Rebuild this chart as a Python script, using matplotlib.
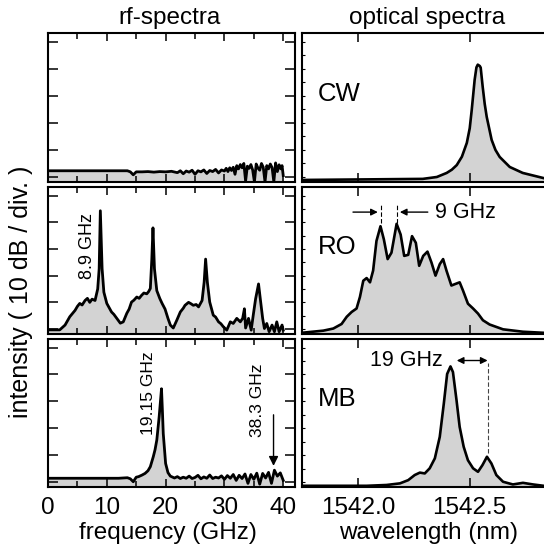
import numpy as np
import matplotlib
matplotlib.use("Agg")
import matplotlib.pyplot as plt
from matplotlib.ticker import MultipleLocator

plt.rcParams['font.family'] = ['Liberation Sans', 'DejaVu Sans']

# --- rf-spectra (frequency in GHz, level in dB) ---
cw_f = [0, 2, 4, 6, 8, 10, 12, 13.5, 14.0, 14.5, 15, 16, 17, 18, 19, 20, 21, 22, 22.5,
        23, 23.5, 24, 24.5, 25, 25.5, 26, 26.5, 27, 27.5, 28, 28.5, 29, 29.5, 30, 30.3,
        30.6, 30.9, 31.2, 31.5, 31.8, 32.1, 32.4, 32.7, 33.0, 33.3, 33.6, 33.9, 34.2,
        34.5, 34.8, 35.1, 35.4, 35.7, 36.0, 36.3, 36.6, 36.9, 37.2, 37.5, 37.8, 38.1,
        38.4, 38.7, 39.0, 39.3, 39.6, 39.8, 40]
cw_db = [2.3, 2.3, 2.3, 2.3, 2.3, 2.3, 2.3, 2.3, 1.9, 0.8, 1.9, 1.9, 2.0, 1.8, 2.0, 1.9,
         2.1, 1.6, 2.3, 1.2, 2.2, 1.8, 2.5, 1.0, 2.3, 1.9, 2.6, 1.3, 2.4, 2.0, 2.8, 1.5,
         2.6, 2.2, 3.2, 2.0, 3.4, 2.4, 3.6, 1.0, 4.2, 3.0, 4.6, 3.4, 5.0, -1.5, 4.0, 3.2,
         4.6, 2.6, -1.8, 4.8, 3.3, 2.5, 5.0, 3.6, -1.8, 4.2, 3.0, 4.8, 3.5, -1.8, 5.2,
         2.0, 4.5, 3.0, 4.2, 0.5]

ro_f = [0, 2.0, 2.9, 3.7, 4.6, 5.0, 5.4, 5.8, 6.3, 6.7, 7.1, 7.5, 8.0, 8.45, 8.7, 8.9,
        9.2, 9.5, 10.0, 10.4, 10.8, 11.2, 11.7, 12.3, 12.8, 13.4, 13.8, 14.2, 14.6, 15.1,
        15.5, 15.9, 16.3, 16.8, 17.1, 17.4, 17.65, 17.85, 18.1, 18.5, 19.0, 19.4, 19.9,
        20.4, 20.8, 21.3, 21.9, 22.5, 23.0, 23.3, 23.9, 24.3, 24.7, 25.2, 25.6, 26.2,
        26.55, 26.8, 27.1, 27.5, 28.1, 28.5, 29.0, 29.4, 29.8, 30.4, 31.0, 31.5, 32.1,
        32.7, 33.1, 33.4, 33.6, 34.1, 34.55, 34.9, 35.3, 35.8, 36.1, 36.5, 36.8, 37.2,
        37.6, 38.1, 38.5, 38.9, 39.3, 39.8, 40.0]
ro_db = [-0.3, -0.3, 1.5, 4.6, 7.0, 8.5, 9.6, 9.0, 10.7, 11.5, 10.0, 11.2, 10.7, 15.0,
         22.6, 44.3, 22.6, 13.8, 9.6, 8.0, 6.4, 5.5, 4.0, 2.2, 2.7, 5.9, 7.5, 10.1, 10.8,
         12.0, 11.5, 12.6, 13.5, 13.2, 14.0, 15.2, 26.0, 37.9, 22.6, 14.4, 11.5, 9.6,
         7.5, 4.0, 1.5, 0.4, 3.3, 6.4, 7.8, 8.9, 10.0, 9.5, 8.9, 9.2, 8.3, 10.7, 17.5,
         26.2, 17.5, 10.1, 5.2, 4.5, 2.7, 2.0, 0.9, -0.4, 2.7, 2.1, 4.0, 2.7, 4.0, 7.6,
         0.4, 4.0, -0.4, 5.2, 11.3, 16.9, 11.3, 4.0, 0.2, 2.1, -1.0, 1.5, -1.0, 2.7,
         -1.0, 1.5, -0.4]

mb_f = [0, 3, 6, 9, 12, 13.5, 14.0, 14.5, 15.0, 15.4, 16.0, 16.5, 17.0, 17.4, 17.9,
        18.2, 18.5, 18.9, 19.3, 19.45, 19.6, 20.0, 20.4, 20.8, 21.5, 22, 22.5, 23, 23.5,
        24, 24.5, 25, 25.5, 26, 26.5, 27, 27.5, 28, 28.5, 29, 29.5, 30, 30.5, 31, 31.5,
        32, 32.5, 33, 33.5, 34, 34.5, 35, 35.5, 36, 36.5, 37, 37.5, 38, 38.5, 39, 39.5, 40]
mb_db = [1.4, 1.4, 1.4, 1.4, 1.4, 1.6, 1.2, 0.1, 1.8, 2.0, 2.6, 3.2, 4.2, 5.7, 9.4,
         12.0, 15.6, 24.2, 34.7, 26.7, 18.0, 6.9, 3.5, 2.2, 1.5, 2.0, 1.3, 1.8, 1.4,
         2.2, 1.3, 1.7, 2.5, 1.2, 1.9, 1.4, 2.6, 1.3, 1.8, 1.5, 2.3, 1.0, 2.4, 1.4,
         2.8, 0.6, 2.5, 1.3, 3.0, -0.5, 2.8, 1.0, 3.3, -0.8, 3.2, 1.5, 3.6, -0.5, 4.4,
         2.2, 3.4, 0.6]

# --- optical spectra (wavelength in nm, intensity in a.u.) ---
cw_wl = [1541.749, 1542.290, 1542.353, 1542.397, 1542.420, 1542.442, 1542.465,
         1542.487, 1542.500, 1542.509, 1542.522, 1542.530, 1542.536, 1542.545,
         1542.549, 1542.558, 1542.567, 1542.576, 1542.598, 1542.615, 1542.634,
         1542.679, 1542.737, 1542.830]
cw_int = [-1.1, -0.7, 0.0, 1.5, 2.7, 4.4, 7.5, 12.6, 18.0, 24.8, 35.9, 40.5, 41.5, 41.0,
          40.4, 33.3, 27.0, 22.2, 13.7, 10.0, 7.4, 3.7, 1.5, -0.4]

ro_wl = [1541.749, 1541.845, 1541.890, 1541.927, 1541.950, 1541.972, 1541.994,
         1542.009, 1542.024, 1542.039, 1542.054, 1542.068, 1542.083, 1542.101,
         1542.116, 1542.133, 1542.150, 1542.173, 1542.191, 1542.207, 1542.225,
         1542.242, 1542.259, 1542.274, 1542.292, 1542.311, 1542.329, 1542.347,
         1542.366, 1542.381, 1542.396, 1542.418, 1542.436, 1542.455, 1542.470,
         1542.492, 1542.515, 1542.537, 1542.559, 1542.589, 1542.649, 1542.738, 1542.830]
ro_int = [-1.4, -0.6, 0.2, 1.9, 4.6, 6.4, 7.7, 12.0, 18.1, 19.1, 17.5, 21.9, 33.0,
          38.5, 33.6, 26.2, 28.6, 39.4, 35.4, 27.4, 27.8, 34.8, 32.3, 23.7, 27.4, 29.0,
          24.9, 20.0, 24.3, 26.2, 21.9, 16.3, 16.9, 17.5, 14.4, 9.5, 7.7, 5.8, 3.3, 1.7,
          -0.1, -1.0, -1.4]

mb_wl = [1541.741, 1542.039, 1542.128, 1542.188, 1542.225, 1542.254, 1542.277,
         1542.299, 1542.321, 1542.344, 1542.366, 1542.384, 1542.399, 1542.414,
         1542.425, 1542.441, 1542.455, 1542.473, 1542.492, 1542.515, 1542.537,
         1542.557, 1542.577, 1542.597, 1542.619, 1542.649, 1542.693, 1542.738,
         1542.783, 1542.830]
mb_int = [-1.4, -1.4, -1.1, -0.5, 0.7, 2.6, 3.5, 3.2, 5.1, 8.8, 16.8, 29.1, 40.2, 43.0,
          40.9, 30.4, 20.5, 13.1, 8.1, 5.1, 3.8, 6.3, 9.4, 6.9, 2.6, 0.1, -0.9, -0.3,
          -0.9, -1.4]

rf_ticks = [0, 10, 20, 30, 40]
wl_ticks = [1542.0, 1542.5]
wl_ticklabels = ["1542.0", "1542.5"]
mode_names = ["CW", "RO", "MB"]

W, H = 544, 546
fig = plt.figure(figsize=(W / 100, H / 100), dpi=100)

rows = [(33, 182), (187, 334), (339, 487)]
fill_c = '#d3d3d3'
YLIM = (-1.85, 53.2)


def box(x0, x1, y0, y1):
    return fig.add_axes([x0 / W, 1 - y1 / H, (x1 - x0) / W, (y1 - y0) / H])


rf_data = [(cw_f, cw_db), (ro_f, ro_db), (mb_f, mb_db)]
opt_data = [(cw_wl, cw_int), (ro_wl, ro_int), (mb_wl, mb_int)]

left_axes = []
right_axes = []
for i, (y0, y1) in enumerate(rows):
    axl = box(48, 295, y0, y1)
    f, d = rf_data[i]
    axl.fill_between(f, d, YLIM[0] - 1, color=fill_c, lw=0)
    axl.plot(f, d, color='k', lw=2.0)
    axl.set_xlim(0, 42)
    axl.set_ylim(*YLIM)
    axl.set_xticks(rf_ticks)
    axl.xaxis.set_minor_locator(MultipleLocator(5))
    axl.yaxis.set_major_locator(MultipleLocator(10))
    axl.tick_params(which='both', direction='in', top=True, right=True, width=1.1,
                    labelsize=17.5, pad=7)
    axl.tick_params(axis='x', which='major', length=6)
    axl.tick_params(axis='x', which='minor', length=4)
    axl.tick_params(axis='y', which='major', length=7.5)
    axl.set_yticklabels([])
    for s in axl.spines.values():
        s.set_linewidth(1.5)
    if i < 2:
        axl.set_xticklabels([])
    left_axes.append(axl)

    axr = box(302, 548, y0, y1)
    w, v = opt_data[i]
    axr.fill_between(w, v, YLIM[0] - 1, color=fill_c, lw=0)
    axr.plot(w, v, color='k', lw=1.9)
    axr.set_xlim(1541.75, 1542.85)
    axr.set_ylim(*YLIM)
    axr.set_xticks(wl_ticks)
    axr.yaxis.set_major_locator(MultipleLocator(5))
    axr.tick_params(axis='x', direction='in', top=True, length=6.5, width=1.1,
                    labelsize=17.5, pad=7)
    axr.tick_params(axis='y', direction='in', length=2, width=0.8)
    axr.set_yticklabels([])
    for s in axr.spines.values():
        s.set_linewidth(1.5)
    if i < 2:
        axr.set_xticklabels([])
    else:
        axr.set_xticklabels(wl_ticklabels)
    axr.text(1541.82, 30.7, mode_names[i], fontsize=18.5, va='center', ha='left')
    right_axes.append(axr)

# rf annotations
left_axes[1].text(6.7, 18.8, "8.9 GHz", rotation=90, fontsize=13, ha='center', va='bottom')
left_axes[2].text(17.1, 17.4, "19.15 GHz", rotation=90, fontsize=12.6, ha='center', va='bottom')
left_axes[2].text(35.6, 16.7, "38.3 GHz", rotation=90, fontsize=12.6, ha='center', va='bottom')
left_axes[2].annotate('', xy=(38.35, 6.0), xytext=(38.35, 25.0),
                      arrowprops=dict(arrowstyle='-|>', color='k', lw=1.0,
                                      mutation_scale=14, shrinkA=0, shrinkB=0))

# optical annotations
ax = right_axes[1]
for wpk in (1542.103, 1542.174):
    ax.plot([wpk, wpk], [39.6, 47.2], color='k', lw=0.8, ls=(0, (4, 2)))
ax.annotate('', xy=(1542.089, 43.8), xytext=(1541.978, 43.8),
            arrowprops=dict(arrowstyle='-|>', color='k', lw=1.0, mutation_scale=10,
                            shrinkA=0, shrinkB=0))
ax.annotate('', xy=(1542.1875, 43.8), xytext=(1542.3125, 43.8),
            arrowprops=dict(arrowstyle='-|>', color='k', lw=1.0, mutation_scale=10,
                            shrinkA=0, shrinkB=0))
ax.text(1542.344, 43.8, "9 GHz", fontsize=15.5, va='center', ha='left')

ax = right_axes[2]
ax.text(1542.217, 45.2, "19 GHz", fontsize=15.5, va='center', ha='center')
ax.annotate('', xy=(1542.442, 45.2), xytext=(1542.580, 45.2),
            arrowprops=dict(arrowstyle='<|-|>', color='k', lw=1.0, mutation_scale=10,
                            shrinkA=0, shrinkB=0))
ax.plot([1542.580, 1542.580], [10.7, 44.4], color='#444444', lw=0.8, ls=(0, (4, 2)))

# titles and axis labels
fig.text(170 / W, 1 - 18 / H, "rf-spectra", fontsize=17.5, ha='center', va='center')
fig.text(427 / W, 1 - 18 / H, "optical spectra", fontsize=17.5, ha='center', va='center')
fig.text(168 / W, 1 - 533 / H, "frequency (GHz)", fontsize=17.5, ha='center', va='center')
fig.text(429 / W, 1 - 533 / H, "wavelength (nm)", fontsize=17.5, ha='center', va='center')
fig.text(21 / W, 1 - 292 / H, "intensity ( 10 dB / div. )", fontsize=18, rotation=90,
         ha='center', va='center')

fig.savefig("out.png", dpi=100)
